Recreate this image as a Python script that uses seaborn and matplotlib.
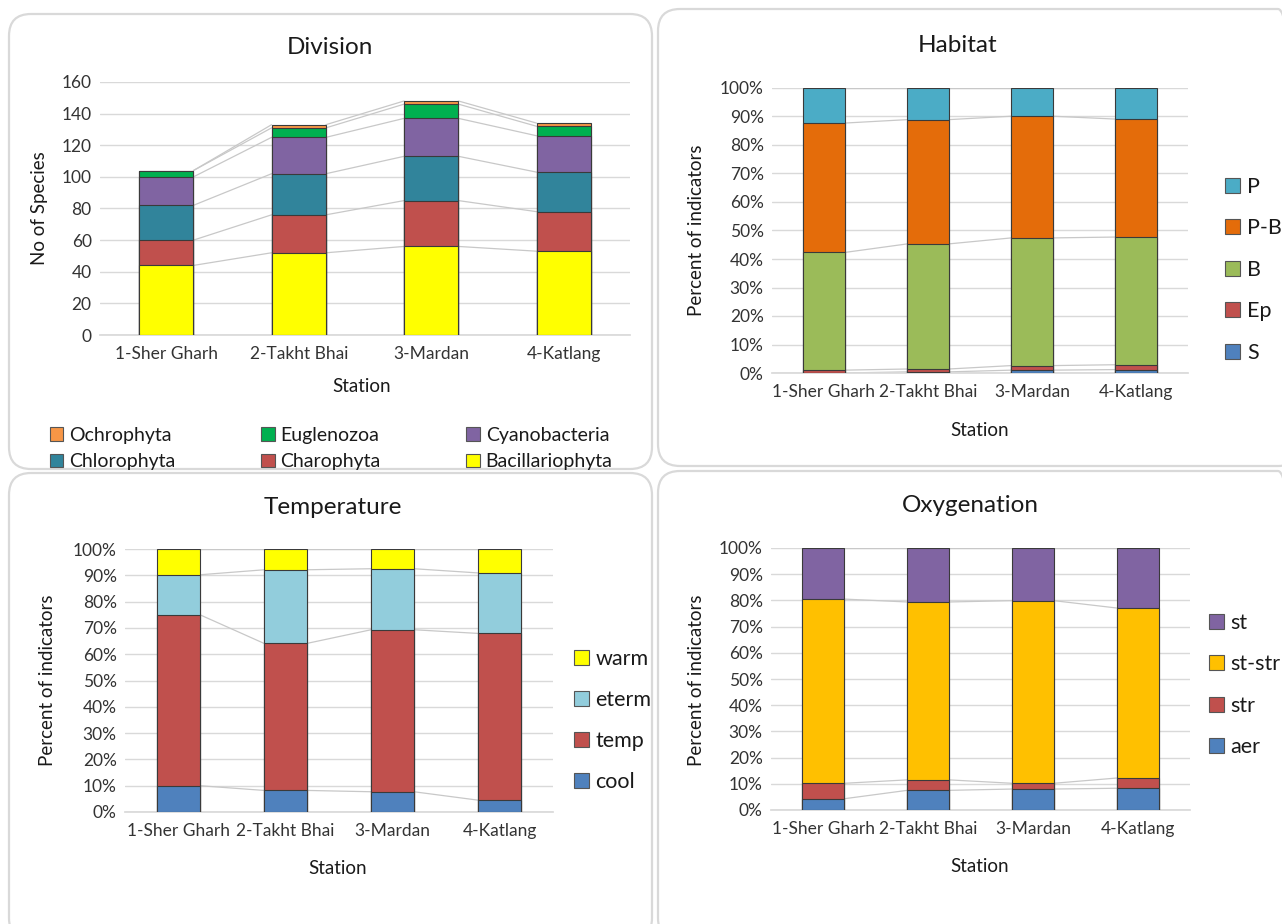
import matplotlib
matplotlib.use("Agg")
import matplotlib.pyplot as plt
import seaborn as sns
from matplotlib.patches import FancyBboxPatch, Patch
from matplotlib.transforms import IdentityTransform
from matplotlib.ticker import FuncFormatter

sns.set_theme(style="white")
plt.rcParams['font.family'] = ['Lato', 'DejaVu Sans']

stations = ["1-Sher Gharh", "2-Takht Bhai", "3-Mardan", "4-Katlang"]

# Division: number of species per station (bottom -> top)
div_names = ["Bacillariophyta", "Charophyta", "Chlorophyta", "Cyanobacteria", "Euglenozoa", "Ochrophyta"]
bacillariophyta = [44, 52, 56, 53]
charophyta = [16, 24, 29, 25]
chlorophyta = [22, 26, 28, 25]
cyanobacteria = [18, 23, 24, 23]
euglenozoa = [4, 6, 9, 6]
ochrophyta = [0, 2, 2, 2]
div_colors = ["#FFFF00", "#C0504D", "#31849B", "#8064A2", "#00B050", "#F79646"]

# Habitat (percent)
hab_names = ["S", "Ep", "B", "P-B", "P"]
hab_S = [0.0, 0.4, 1.0, 1.2]
hab_Ep = [1.0, 1.0, 1.6, 1.7]
hab_B = [41.3, 43.9, 44.8, 44.8]
hab_PB = [45.4, 43.6, 42.7, 41.4]
hab_P = [12.3, 11.1, 9.9, 10.9]
hab_colors = ["#4F81BD", "#C0504D", "#9BBB59", "#E46C0A", "#4BACC6"]

# Temperature (percent)
tmp_names = ["cool", "temp", "eterm", "warm"]
tmp_cool = [10.0, 8.2, 7.7, 4.5]
tmp_temp = [65.0, 55.9, 61.6, 63.4]
tmp_eterm = [15.2, 28.0, 23.2, 23.0]
tmp_warm = [9.8, 7.9, 7.5, 9.1]
tmp_colors = ["#4F81BD", "#C0504D", "#92CDDC", "#FFFF00"]

# Oxygenation (percent)
oxy_names = ["aer", "str", "st-str", "st"]
oxy_aer = [4.3, 7.5, 8.0, 8.3]
oxy_str = [5.9, 4.0, 2.2, 3.9]
oxy_ststr = [70.3, 67.9, 69.7, 64.9]
oxy_st = [19.5, 20.6, 20.1, 22.9]
oxy_colors = ["#4F81BD", "#C0504D", "#FFC000", "#8064A2"]

W, H = 1282, 924
fig = plt.figure(figsize=(W / 100, H / 100), dpi=100)
fig.patch.set_facecolor("white")


def px(x, y):
    return x / W, 1 - y / H


# rounded panel frames
for (x0, y0, x1, y1) in [(9, 14, 652, 469), (658, 9, 1300, 466), (9, 473, 652, 940), (658, 471, 1300, 940)]:
    fig.patches.append(FancyBboxPatch((x0, H - y1), x1 - x0, y1 - y0,
                                      boxstyle="round,pad=0,rounding_size=22",
                                      transform=IdentityTransform(), facecolor="none",
                                      edgecolor="#d9d9d9", linewidth=1.6, zorder=0))


def stacked(ax, series, colors, width, ymax, pct):
    cums = []
    run = [0] * len(stations)
    for s in series:
        run = [a + b for a, b in zip(run, s)]
        cums.append(run)
    # draw tallest cumulative first so lower segments sit on top
    for cum, col in reversed(list(zip(cums, colors))):
        sns.barplot(x=stations, y=cum, color=col, saturation=1, width=width,
                    edgecolor="#3a3a3a", linewidth=0.8, errorbar=None, ax=ax, zorder=3)
    # series lines between bars
    for cum in cums:
        for i in range(len(stations) - 1):
            ax.plot([i + width / 2, i + 1 - width / 2], [cum[i], cum[i + 1]],
                    color="#c8c8c8", lw=0.9, zorder=2)
    ax.set_xlim(-0.5, len(stations) - 0.5)
    ax.set_ylim(0, ymax)
    ax.set_yticks(range(0, ymax + 1, 10 if pct else 20))
    if pct:
        ax.yaxis.set_major_formatter(FuncFormatter(lambda v, p: f"{v:.0f}%"))
    ax.grid(axis="y", color="#d9d9d9", lw=1, zorder=0)
    ax.set_axisbelow(True)
    for sp in ["top", "right", "left"]:
        ax.spines[sp].set_visible(False)
    ax.spines["bottom"].set_color("#d9d9d9")
    ax.tick_params(length=0, labelsize=12.5, colors="#333333")
    ax.tick_params(axis="x", pad=8)
    ax.tick_params(axis="y", pad=6)
    ax.set_xlabel("")
    ax.set_ylabel("")
    ax.set_facecolor("none")


def add_axes(x0, y0, x1, y1):
    return fig.add_axes([x0 / W, 1 - y1 / H, (x1 - x0) / W, (y1 - y0) / H])


tc = "#1a1a1a"
lab = 13.5
# Division
ax1 = add_axes(100, 82, 630, 335)
stacked(ax1, [bacillariophyta, charophyta, chlorophyta, cyanobacteria, euglenozoa, ochrophyta],
        div_colors, 0.41, 160, False)
fig.text(*px(330, 48), "Division", ha="center", va="center", fontsize=17.5, color=tc)
fig.text(*px(40, 208), "No of Species", ha="center", va="center", rotation=90, fontsize=lab, color=tc)
fig.text(*px(362, 387), "Station", ha="center", va="center", fontsize=lab, color=tc)
order = [5, 2, 4, 1, 3, 0]
handles = [Patch(facecolor=div_colors[k], edgecolor="#555555", lw=0.8) for k in order]
fig.legend(handles, [div_names[k] for k in order], ncol=3, loc="upper left",
           bbox_to_anchor=px(40, 417), frameon=False, fontsize=14, handlelength=0.7,
           handleheight=0.7, handletextpad=0.3, columnspacing=4.4, labelspacing=0.5,
           borderpad=0, labelcolor=tc)

# Habitat
ax2 = add_axes(772, 88, 1188, 373)
stacked(ax2, [hab_S, hab_Ep, hab_B, hab_PB, hab_P], hab_colors, 0.40, 100, True)
fig.text(*px(958, 45), "Habitat", ha="center", va="center", fontsize=17.5, color=tc)
fig.text(*px(697, 230), "Percent of indicators", ha="center", va="center", rotation=90, fontsize=lab, color=tc)
fig.text(*px(980, 430), "Station", ha="center", va="center", fontsize=lab, color=tc)
handles = [Patch(facecolor=c, edgecolor="#555555", lw=0.8) for c in hab_colors[::-1]]
fig.legend(handles, hab_names[::-1], loc="upper left", bbox_to_anchor=px(1214, 166),
           frameon=False, fontsize=15.5, handlelength=0.7, handleheight=0.7,
           handletextpad=0.35, labelspacing=1.0, borderpad=0, labelcolor=tc)

# Temperature
ax3 = add_axes(125, 549, 553, 812)
stacked(ax3, [tmp_cool, tmp_temp, tmp_eterm, tmp_warm], tmp_colors, 0.40, 100, True)
fig.text(*px(333, 508), "Temperature", ha="center", va="center", fontsize=17.5, color=tc)
fig.text(*px(48, 680), "Percent of indicators", ha="center", va="center", rotation=90, fontsize=lab, color=tc)
fig.text(*px(338, 868), "Station", ha="center", va="center", fontsize=lab, color=tc)
handles = [Patch(facecolor=c, edgecolor="#555555", lw=0.8) for c in tmp_colors[::-1]]
fig.legend(handles, tmp_names[::-1], loc="upper left", bbox_to_anchor=px(563, 638),
           frameon=False, fontsize=15.5, handlelength=0.7, handleheight=0.7,
           handletextpad=0.3, labelspacing=0.98, borderpad=0, labelcolor=tc)

# Oxygenation
ax4 = add_axes(771, 548, 1190, 810)
stacked(ax4, [oxy_aer, oxy_str, oxy_ststr, oxy_st], oxy_colors, 0.40, 100, True)
fig.text(*px(970, 506), "Oxygenation", ha="center", va="center", fontsize=17.5, color=tc)
fig.text(*px(697, 680), "Percent of indicators", ha="center", va="center", rotation=90, fontsize=lab, color=tc)
fig.text(*px(980, 866), "Station", ha="center", va="center", fontsize=lab, color=tc)
handles = [Patch(facecolor=c, edgecolor="#555555", lw=0.8) for c in oxy_colors[::-1]]
fig.legend(handles, oxy_names[::-1], loc="upper left", bbox_to_anchor=px(1198, 602),
           frameon=False, fontsize=15.5, handlelength=0.7, handleheight=0.7,
           handletextpad=0.3, labelspacing=1.0, borderpad=0, labelcolor=tc)

fig.savefig("out.png", dpi=100, facecolor="white")
